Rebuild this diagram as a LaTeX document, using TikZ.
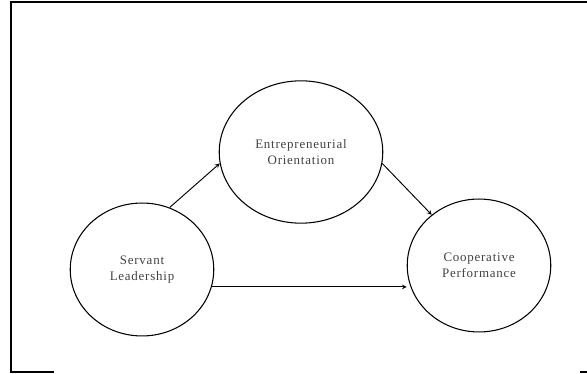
\documentclass[tikz,border=0pt]{standalone}
\usepackage{fontspec}
\setmainfont{Liberation Serif}
\usetikzlibrary{shapes.geometric}
\begin{document}
    \begin{tikzpicture}[x=0.85pt,y=-0.85pt,
        var/.style={ellipse,draw,line width=0.9pt,inner sep=0pt,align=center,
            text=black!75,font=\addfontfeatures{LetterSpace=6}\fontsize{11}{14}\selectfont},
        path/.style={->,>=stealth,line width=0.8pt}]
        \useasboundingbox (0,0) rectangle (587,374);
        \draw [line width=1.4pt] (587,2) -- (11,2) -- (11,372) -- (54,372);
        \draw [line width=1.4pt] (580,372) -- (587,372);
        \node [var,minimum width=139pt,minimum height=121pt] (eo) at (301,152)
            {Entrepreneurial\\Orientation};
        \node [var,minimum width=122pt,minimum height=113pt] (sl) at (142,269.5)
            {Servant\\Leadership};
        \node [var,minimum width=122pt,minimum height=113pt] (cp) at (479,265.5)
            {Cooperative\\Performance};
        \draw [path] (sl.66) -- (eo.188);
        \draw [path] (eo.-8) -- (cp.133);
        \draw [path] (sl.-14) -- (sl.-14 -| cp.west);
    \end{tikzpicture}
\end{document}
